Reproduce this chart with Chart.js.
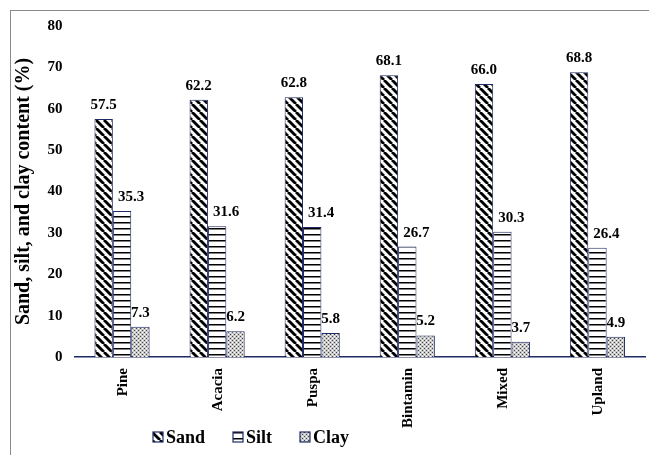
<!DOCTYPE html>
<html>
<head>
<meta charset="utf-8">
<script src="https://cdn.jsdelivr.net/npm/chart.js@4"></script>
<style>
  html, body { margin: 0; padding: 0; background: #fff; }
  #wrap { position: relative; width: 649px; height: 455px; overflow: hidden; }
  #frame { position: absolute; left: 10px; top: 10px; width: 700px; height: 500px;
           border-left: 1.5px solid #8a8a8a; border-top: 1.5px solid #8a8a8a; }
  canvas { position: absolute; left: 0; top: 0; }
</style>
</head>
<body>
<div id="wrap">
  <div id="frame"></div>
  <canvas id="soilChart" width="649" height="455"></canvas>
</div>
<script>
// Soil texture per land use
const landUses = ["Pine", "Acacia", "Puspa", "Bintamin", "Mixed", "Upland"];
const sandValues = [57.5, 62.2, 62.8, 68.1, 66.0, 68.8];
const siltValues = [35.3, 31.6, 31.4, 26.7, 30.3, 26.4];
const clayValues = [7.3, 6.2, 5.8, 5.2, 3.7, 4.9];
const yTicks = [0, 10, 20, 30, 40, 50, 60, 70, 80];

const NAVY = "#1f2b63";
const SERIF = "'Liberation Serif', 'Times New Roman', serif";

// Hatch fills built on small tiles
function makeTile(size, draw) {
    const c = document.createElement("canvas");
    c.width = size; c.height = size;
    const g = c.getContext("2d");
    g.fillStyle = "#fff";
    g.fillRect(0, 0, size, size);
    draw(g, size);
    return g.createPattern(c, "repeat");
}

const sandFill = makeTile(8, (g, s) => {
    g.strokeStyle = "#000";
    g.lineWidth = 2.8;
    for (let k = -1; k <= 1; k++) {
        g.beginPath();
        g.moveTo(k * s, 0);
        g.lineTo(k * s + s, s);
        g.stroke();
    }
});

const siltFill = makeTile(6, (g, s) => {
    g.fillStyle = "#000";
    g.fillRect(0, 0, s, 1.5);
});

const clayFill = makeTile(4, (g, s) => {
    g.fillStyle = "#c8c8c8";
    g.fillRect(0, 0, s, s);
    g.fillStyle = "#444";
    g.fillRect(0, 0, 1, 1);
    g.fillRect(2, 2, 1, 1);
    g.fillStyle = "#fff";
    g.fillRect(2, 0, 1, 1);
    g.fillRect(0, 2, 1, 1);
});

// Value text above every bar (silt values nudged right, clear of the sand bar)
const labelShift = [0, 9, 0];
const barValues = {
    id: "barValues",
    afterDatasetsDraw(chart) {
        const ctx = chart.ctx;
        ctx.save();
        ctx.font = "bold 15px " + SERIF;
        ctx.fillStyle = "#000";
        ctx.textAlign = "center";
        ctx.textBaseline = "alphabetic";
        chart.data.datasets.forEach((ds, i) => {
            chart.getDatasetMeta(i).data.forEach((bar, j) => {
                ctx.fillText(ds.data[j].toFixed(1), bar.x + labelShift[i], bar.y - 10);
            });
        });
        ctx.restore();
    }
};

// Category names, written upward and hanging from the axis
const categoryNames = {
    id: "categoryNames",
    afterDraw(chart) {
        const ctx = chart.ctx;
        const xScale = chart.scales.x;
        const top = chart.chartArea.bottom + 11;
        ctx.save();
        ctx.font = "bold 15px " + SERIF;
        ctx.fillStyle = "#000";
        ctx.textAlign = "right";
        ctx.textBaseline = "middle";
        chart.data.labels.forEach((name, i) => {
            ctx.save();
            ctx.translate(xScale.getPixelForTick(i) + 1, top);
            ctx.rotate(-Math.PI / 2);
            ctx.fillText(name, 0, 0);
            ctx.restore();
        });
        ctx.restore();
    }
};

// Legend row under the category labels
const bottomLegend = {
    id: "bottomLegend",
    afterDraw(chart) {
        const ctx = chart.ctx;
        const starts = [153, 233, 300];
        const y = 437;
        ctx.save();
        ctx.font = "bold 18px " + SERIF;
        ctx.textBaseline = "middle";
        ctx.textAlign = "left";
        chart.data.datasets.forEach((ds, i) => {
            const x = starts[i];
            ctx.fillStyle = ds.backgroundColor;
            ctx.fillRect(x, y - 5, 10, 10);
            ctx.strokeStyle = NAVY;
            ctx.lineWidth = 1.2;
            ctx.strokeRect(x, y - 5, 10, 10);
            ctx.fillStyle = "#000";
            ctx.fillText(ds.label, x + 13, y + 1);
        });
        ctx.restore();
    }
};

new Chart(document.getElementById("soilChart"), {
    type: "bar",
    data: {
        labels: landUses,
        datasets: [
            { label: "Sand", data: sandValues, backgroundColor: sandFill },
            { label: "Silt", data: siltValues, backgroundColor: siltFill },
            { label: "Clay", data: clayValues, backgroundColor: clayFill }
        ]
    },
    options: {
        responsive: false,
        animation: false,
        layout: { padding: { left: 12, top: 26, right: 4, bottom: 0 } },
        datasets: {
            bar: {
                borderColor: NAVY,
                borderWidth: 1,
                categoryPercentage: 0.58,
                barPercentage: 1
            }
        },
        plugins: {
            legend: { display: false },
            tooltip: { enabled: false }
        },
        scales: {
            x: {
                grid: { display: false },
                border: { color: NAVY, width: 1.5 },
                afterFit(scale) { scale.height = 98; },
                ticks: { display: false }
            },
            y: {
                min: 0,
                max: 80,
                grid: { display: false },
                border: { display: false },
                afterFit(scale) { scale.width = 62.5; },
                afterBuildTicks(scale) { scale.ticks = yTicks.map(v => ({ value: v })); },
                ticks: {
                    padding: 4,
                    color: "#000",
                    font: { family: SERIF, size: 15, weight: "bold" }
                },
                title: {
                    display: true,
                    text: "Sand, silt, and clay content (%)",
                    color: "#000",
                    padding: 0,
                    font: { family: SERIF, size: 20, weight: "bold" }
                }
            }
        }
    },
    plugins: [barValues, categoryNames, bottomLegend]
});
</script>
</body>
</html>
